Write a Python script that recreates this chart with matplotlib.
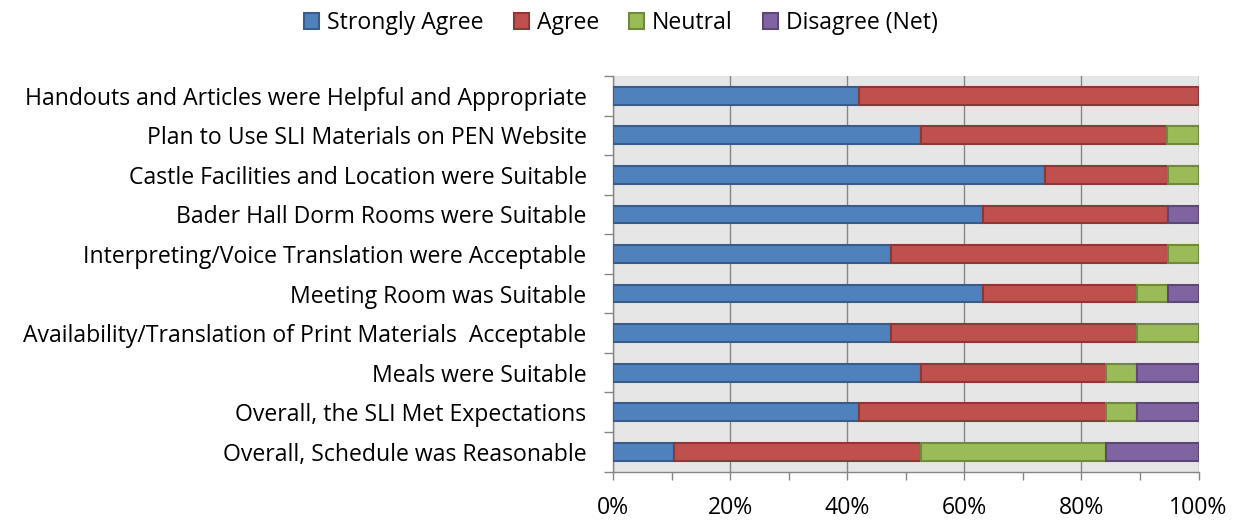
import matplotlib
matplotlib.use("Agg")
import matplotlib.pyplot as plt
import numpy as np

# Survey items, listed top to bottom
items = [
    "Handouts and Articles were Helpful and Appropriate",
    "Plan to Use SLI Materials on PEN Website",
    "Castle Facilities and Location were Suitable",
    "Bader Hall Dorm Rooms were Suitable",
    "Interpreting/Voice Translation were Acceptable",
    "Meeting Room was Suitable",
    "Availability/Translation of Print Materials  Acceptable",
    "Meals were Suitable",
    "Overall, the SLI Met Expectations",
    "Overall, Schedule was Reasonable",
]

# Share of responses (%) per item
strongly_agree = [42.1, 52.6, 73.7, 63.2, 47.4, 63.2, 47.4, 52.6, 42.1, 10.5]
agree          = [57.9, 42.1, 21.1, 31.6, 47.4, 26.3, 42.1, 31.6, 42.1, 42.1]
neutral        = [0.0,  5.3,  5.3,  0.0,  5.3,  5.3, 10.5,  5.3,  5.3, 31.6]
disagree_net   = [0.0,  0.0,  0.0,  5.3,  0.0,  5.3,  0.0, 10.5, 10.5, 15.8]

series_names = ["Strongly Agree", "Agree", "Neutral", "Disagree (Net)"]
face_colors = ["#4F81BD", "#C0504D", "#9BBB59", "#8064A2"]
edge_colors = ["#385D8A", "#8C3836", "#71893F", "#5C4776"]

x_ticks = [0, 20, 40, 60, 80, 100]
x_tick_labels = ["0%", "20%", "40%", "60%", "80%", "100%"]

plt.rcParams["font.family"] = ["Open Sans", "DejaVu Sans"]
FS = 16.6

fig = plt.figure(figsize=(12.37, 5.22), dpi=100)
ax = fig.add_axes([613 / 1237, 1 - 471.5 / 522, 585.5 / 1237, (471.5 - 76) / 522])
ax.set_facecolor("#E6E6E6")

grid_color = "#868686"
ypos = np.arange(len(items))
left = np.zeros(len(items))
handles = []
for vals, name, fc, ec in zip([strongly_agree, agree, neutral, disagree_net],
                              series_names, face_colors, edge_colors):
    vals = np.array(vals, dtype=float)
    mask = vals > 0
    bars = ax.barh(ypos[mask], vals[mask], left=left[mask], height=0.45,
                   color=fc, edgecolor=ec, linewidth=1.5, label=name, zorder=3)
    handles.append(bars)
    left = left + vals

ax.set_xlim(0, 100)
ax.set_ylim(len(items) - 0.5, -0.5)

# Vertical gridlines at major ticks
ax.set_xticks(x_ticks)
ax.set_xticklabels(x_tick_labels, fontsize=FS)
ax.set_xticks(np.arange(0, 101, 10), minor=True)
ax.xaxis.grid(True, which="major", color=grid_color, linewidth=1.0, zorder=1)
ax.set_axisbelow(True)
ax.tick_params(axis="x", which="both", direction="out", length=6, width=1,
               color=grid_color, pad=12)

# Category boundaries as major ticks, labels centred as minor ticks
ax.set_yticks(np.arange(-0.5, len(items), 1.0))
ax.set_yticklabels([])
ax.set_yticks(ypos, minor=True)
ax.set_yticklabels(items, minor=True, fontsize=FS)
ax.tick_params(axis="y", which="major", direction="out", length=6.5, width=1,
               color=grid_color)
ax.tick_params(axis="y", which="minor", length=0, pad=19)

for side in ["top", "right"]:
    ax.spines[side].set_visible(False)
for side in ["left", "bottom"]:
    ax.spines[side].set_color(grid_color)
    ax.spines[side].set_linewidth(1.0)

fig.legend(handles=handles, labels=series_names, loc="center",
           bbox_to_anchor=(0.502, 1 - 23 / 522), ncol=4, frameon=False,
           fontsize=FS, handlelength=0.65, handleheight=0.65,
           handletextpad=0.35, columnspacing=1.3, borderaxespad=0)

fig.savefig("out.png", dpi=100, facecolor="white")
